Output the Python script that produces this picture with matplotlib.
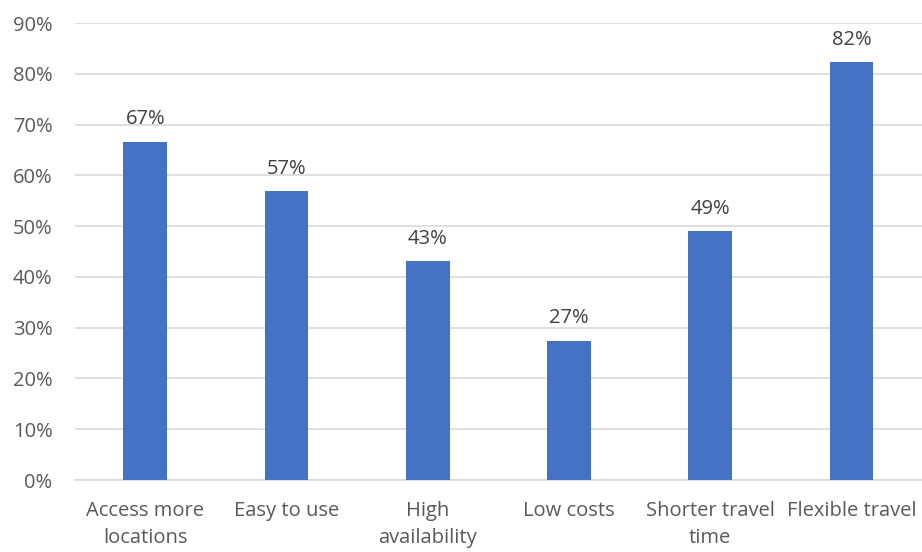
import matplotlib.pyplot as plt
from matplotlib.ticker import PercentFormatter

categories = ['Access more\nlocations', 'Easy to use', 'High\navailability',
              'Low costs', 'Shorter travel\ntime', 'Flexible travel']
shares = [66.6, 56.9, 43.1, 27.4, 49.0, 82.3]
yticks = [0, 10, 20, 30, 40, 50, 60, 70, 80, 90]

plt.rcParams['font.family'] = ['Open Sans', 'DejaVu Sans']
text_col = '#595959'

fig = plt.figure(figsize=(9.22, 5.52), dpi=100)
ax = fig.add_axes([0.081, 0.1304, 0.919, 0.8279])

x = range(len(categories))
bars = ax.bar(x, shares, width=0.31, color='#4472c4', zorder=3)

for rect, val in zip(bars, shares):
    ax.annotate(f'{val:.0f}%', (rect.get_x() + rect.get_width() / 2, val),
                xytext=(0, 9), textcoords='offset points',
                ha='center', va='bottom', fontsize=14.5, color='#404040')

ax.set_xlim(-0.5, len(categories) - 0.5)
ax.set_ylim(0, 90)
ax.set_yticks(yticks)
ax.yaxis.set_major_formatter(PercentFormatter(decimals=0))
ax.set_xticks(list(x))
ax.set_xticklabels(categories, linespacing=1.45)

ax.grid(axis='y', color='#d9d9d9', linewidth=1.2, zorder=0)
for side in ['top', 'right', 'left']:
    ax.spines[side].set_visible(False)
ax.spines['bottom'].set_color('#d9d9d9')
ax.spines['bottom'].set_linewidth(1.2)
ax.tick_params(axis='both', length=0, labelsize=14.5, labelcolor=text_col)
ax.tick_params(axis='x', pad=15)
ax.tick_params(axis='y', pad=16)

plt.savefig('out.png', dpi=100)
